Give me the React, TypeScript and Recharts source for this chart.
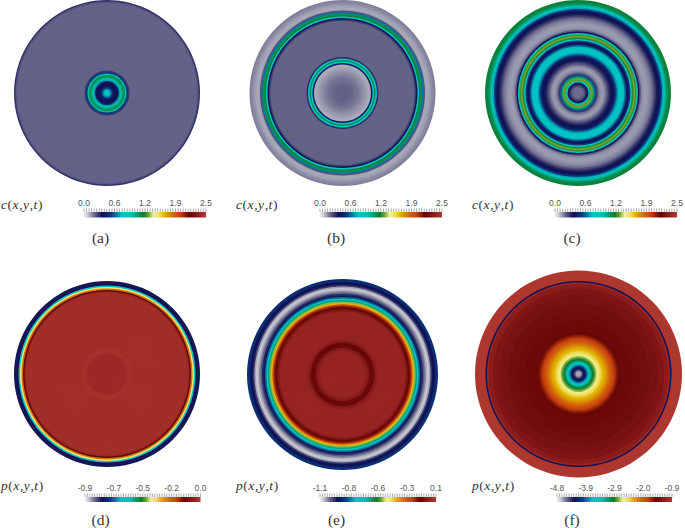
import React from "react";
import { Area, AreaChart, Cell, Pie, PieChart, XAxis, YAxis } from "recharts";

// colour map, position along the bar -> colour
const mapStops = [0, 0.03, 0.09, 0.15, 0.22, 0.31, 0.39, 0.44, 0.49, 0.53, 0.57, 0.62, 0.66, 0.74, 0.79, 0.86, 0.93, 1];
const mapColors = [
  "#f0f0f0", "#c8c8d0", "#5f5f85", "#101052", "#0a3a80", "#00c4c4", "#00c0b0", "#00a070", "#107a30",
  "#70a830", "#f0f0a0", "#eedc50", "#e0b000", "#d0600c", "#c84010", "#620404", "#8a1c1c", "#b03a32",
];

// radial profiles, centre to rim, one value per ring
const cA = [
  0.8, 0.78, 0.68, 0.52, 0.42, 0.37, 0.38, 0.45, 0.72, 0.98, 1.12, 1.15, 1.0, 0.55, 0.3,
  0.22, 0.22, 0.22, 0.22, 0.22, 0.22, 0.22, 0.22, 0.22, 0.22, 0.22, 0.22, 0.22, 0.22, 0.22,
  0.22, 0.22, 0.22, 0.22, 0.22, 0.22, 0.22, 0.22, 0.22, 0.22, 0.22, 0.22, 0.22, 0.22, 0.22,
  0.22, 0.22, 0.22, 0.22, 0.22, 0.22, 0.22, 0.22, 0.22, 0.22, 0.22, 0.22, 0.22, 0.22, 0.22,
  0.24, 0.31,
];
const cB = [
  0.22, 0.22, 0.22, 0.22, 0.22, 0.22, 0.21, 0.21, 0.2, 0.2, 0.19, 0.18, 0.17, 0.16, 0.15, 0.14, 0.13, 0.12, 0.12,
  0.42, 0.78, 1.15, 0.78, 0.32,
  0.22, 0.22, 0.22, 0.22, 0.22, 0.22, 0.22, 0.22, 0.22, 0.22, 0.22, 0.22,
  0.22, 0.22, 0.22, 0.22, 0.22, 0.22, 0.22, 0.22, 0.22, 0.22, 0.22, 0.22,
  0.28, 0.4, 0.8, 1.2, 1.15, 0.65, 0.25, 0.13, 0.12, 0.13, 0.14, 0.16, 0.17, 0.18,
];
const cC = [
  0.21, 0.21, 0.21, 0.22, 0.26, 0.33, 0.42, 0.78, 1.3, 1.32, 1.1, 0.6, 0.3, 0.21, 0.17, 0.15, 0.14, 0.16, 0.2, 0.25,
  0.3, 0.35, 0.38, 0.4, 0.45, 0.6, 0.72, 0.78, 0.8, 0.8, 0.76, 0.62, 0.45, 0.38, 0.55, 0.85, 1.25, 1.32, 1.28, 0.85,
  0.4, 0.24, 0.17, 0.15, 0.14, 0.14, 0.15, 0.16, 0.18, 0.2, 0.25, 0.3, 0.35, 0.38, 0.42, 0.55, 0.72, 0.85, 1.05, 1.15,
  1.2, 1.2,
];
const pD = [
  -0.035, -0.035, -0.035, -0.035, -0.035, -0.035, -0.035, -0.035, -0.035, -0.035, -0.035, -0.035, -0.035, -0.03, -0.02, -0.015, -0.02,
  -0.025, -0.025, -0.025, -0.025, -0.025, -0.025, -0.025, -0.025, -0.025, -0.025, -0.025, -0.025,
  -0.025, -0.025, -0.025, -0.025, -0.025, -0.025, -0.025, -0.025, -0.025, -0.025, -0.025, -0.025,
  -0.025, -0.025, -0.025, -0.025, -0.025, -0.025, -0.025, -0.025, -0.025, -0.025, -0.025, -0.025, -0.025,
  -0.04, -0.13, -0.25, -0.36, -0.62, -0.76, -0.77, -0.77,
];
const pE = [
  -0.01, -0.01, -0.01, -0.01, -0.01, -0.01, -0.01, -0.01, -0.01, -0.01, -0.01, -0.01, -0.01, -0.01, -0.01,
  -0.02, -0.03, -0.05, -0.1, -0.125, -0.11, -0.06, -0.03, -0.02,
  -0.01, -0.01, -0.01, -0.01, -0.01, -0.01, -0.01, -0.01, -0.01, -0.01, -0.01, -0.01, -0.01, -0.01, -0.01, -0.01, -0.01, -0.01,
  -0.03, -0.07, -0.11, -0.15, -0.22, -0.36, -0.5, -0.63, -0.76, -0.84, -0.94, -0.985, -1.03, -1.06, -1.09, -1.105, -1.08,
  -1.0, -0.95, -0.96, -0.9, -0.9,
];
const pF = [
  -4.68, -4.6, -4.41, -4.18, -4.14, -3.86, -3.63, -3.4, -3.12, -2.89, -2.81, -2.69, -2.54, -2.46, -2.38, -2.3, -2.23, -2.19,
  -2.11, -2.03, -1.95, -1.88, -1.8, -1.72, -1.64, -1.56, -1.49, -1.41,
  -1.38, -1.38, -1.38, -1.38, -1.38, -1.38, -1.38, -1.38, -1.36, -1.36, -1.36, -1.36, -1.36,
  -1.33, -1.33, -1.33, -1.33, -1.33, -1.33, -1.29, -1.29, -1.29, -1.29, -1.29, -1.29,
  -1.25, -1.25, -1.25, -1.25, -1.17, -1.17, -1.17, -1.06, -4.2, -0.94,
  -0.92, -0.92, -0.92, -0.92, -0.92, -0.92,
];

const cTicks = ["0.0", "0.6", "1.2", "1.9", "2.5"];
const pTicksD = ["-0.9", "-0.7", "-0.5", "-0.2", "0.0"];
const pTicksE = ["-1.1", "-0.8", "-0.6", "-0.3", "0.1"];
const pTicksF = ["-4.8", "-3.9", "-2.9", "-2.0", "-0.9"];

const minorTicks = Array.from({ length: 49 }, (_, i) => i / 48);

const panels = [
  { id: "a", kind: "c", values: cA, min: 0, max: 2.5, labels: cTicks, cx: 107, cy: 93, r: 93, barL: 84, barR: 206, barTop: 212, symX: 1, symY: 196, capX: 100.5, capY: 229 },
  { id: "b", kind: "c", values: cB, min: 0, max: 2.5, labels: cTicks, cx: 342.5, cy: 93, r: 93, barL: 320, barR: 442, barTop: 212, symX: 236, symY: 196, capX: 336, capY: 229 },
  { id: "c", kind: "c", values: cC, min: 0, max: 2.5, labels: cTicks, cx: 578, cy: 93, r: 93, barL: 555, barR: 677, barTop: 212, symX: 472, symY: 196, capX: 572, capY: 229 },
  { id: "d", kind: "p", values: pD, min: -0.9, max: 0, labels: pTicksD, cx: 107, cy: 374, r: 93, barL: 85, barR: 200.5, barTop: 496.5, symX: 1, symY: 477, capX: 100.5, capY: 511 },
  { id: "e", kind: "p", values: pE, min: -1.14, max: 0.05, labels: pTicksE, cx: 342.5, cy: 374.5, r: 95.5, barL: 320, barR: 436, barTop: 496.5, symX: 236, symY: 477, capX: 336.5, capY: 511 },
  { id: "f", kind: "p", values: pF, min: -4.8, max: -0.9, labels: pTicksF, cx: 578.5, cy: 374, r: 103.5, barL: 556.5, barR: 671.5, barTop: 496.5, symX: 472, symY: 477, capX: 572, capY: 511 },
];

function hexToRgb(hex: string) {
  return [1, 3, 5].map((k) => parseInt(hex.slice(k, k + 2), 16));
}

function mapColor(t: number) {
  const v = Math.min(1, Math.max(0, t));
  let i = 0;
  while (i < mapStops.length - 2 && v > mapStops[i + 1]) i++;
  const f = (v - mapStops[i]) / (mapStops[i + 1] - mapStops[i]);
  const a = hexToRgb(mapColors[i]);
  const b = hexToRgb(mapColors[i + 1]);
  return `rgb(${a.map((x, k) => Math.round(x + (b[k] - x) * f)).join(",")})`;
}

const fullSlice = [{ name: "ring", value: 1 }];

// each ring is a filled disk, rim first and centre last, so no seams show
function Disk({ p }: { p: (typeof panels)[number] }) {
  const n = p.values.length;
  const size = Math.ceil(p.r * 2) + 8;
  const left = Math.floor(p.cx - size / 2);
  const top = Math.floor(p.cy - size / 2);
  const rims = p.values.map((value, i) => ({ i, value })).reverse();
  return (
    <div style={{ position: "absolute", left, top, filter: "blur(0.6px)" }}>
      <PieChart width={size} height={size} margin={{ top: 0, right: 0, bottom: 0, left: 0 }}>
        {rims.map(({ i, value }) => (
          <Pie
            key={i}
            data={fullSlice}
            dataKey="value"
            cx={p.cx - left}
            cy={p.cy - top}
            innerRadius={0}
            outerRadius={((i + 1) * p.r) / n}
            startAngle={90}
            endAngle={-270}
            stroke="none"
            isAnimationActive={false}
          >
            <Cell fill={mapColor((value - p.min) / (p.max - p.min))} />
          </Pie>
        ))}
      </PieChart>
    </div>
  );
}

function ColorBar({ p }: { p: (typeof panels)[number] }) {
  const pad = 14;
  const width = p.barR - p.barL + pad * 2;
  const gradId = `map-${p.id}`;
  const barData = [
    { x: 0, y: 1 },
    { x: 1, y: 1 },
  ];
  const renderTick = (t: any) => {
    const idx = Math.round(t.payload.value * 48);
    if (idx % 12 !== 0) return <g />;
    return (
      <text x={t.x} y={t.y - 1.5} textAnchor="middle" fontSize={8.5} fill="#555" fontFamily="'Liberation Sans', sans-serif">
        {p.labels[idx / 12]}
      </text>
    );
  };
  return (
    <div style={{ position: "absolute", left: p.barL - pad, top: p.barTop - 16 }}>
      <AreaChart width={width} height={21.5} data={barData} margin={{ top: 0, right: pad, bottom: 0, left: pad }}>
        <defs>
          <linearGradient id={gradId} x1="0" y1="0" x2="1" y2="0">
            {mapStops.map((s, i) => (
              <stop key={s} offset={s} stopColor={mapColors[i]} />
            ))}
          </linearGradient>
        </defs>
        <XAxis
          dataKey="x"
          type="number"
          orientation="top"
          domain={[0, 1]}
          ticks={minorTicks}
          interval={0}
          height={16}
          tickSize={3.5}
          tickMargin={1}
          tick={renderTick}
          tickLine={{ stroke: "#888", strokeWidth: 0.7 }}
          axisLine={false}
        />
        <YAxis hide domain={[0, 1]} />
        <Area dataKey="y" type="linear" stroke="none" fill={`url(#${gradId})`} fillOpacity={1} isAnimationActive={false} dot={false} activeDot={false} />
      </AreaChart>
    </div>
  );
}

function Symbol({ p }: { p: (typeof panels)[number] }) {
  return (
    <div
      style={{
        position: "absolute",
        left: p.symX,
        top: p.symY,
        fontFamily: "'Liberation Serif', serif",
        fontSize: 13.5,
        letterSpacing: 0.55,
        lineHeight: "18px",
        color: "#333",
        whiteSpace: "nowrap",
      }}
    >
      <i>{p.kind}</i>(<i>x</i>,<i>y</i>,<i>t</i>)
    </div>
  );
}

function Caption({ p }: { p: (typeof panels)[number] }) {
  return (
    <div
      style={{
        position: "absolute",
        left: p.capX - 20,
        width: 40,
        top: p.capY,
        textAlign: "center",
        fontFamily: "'Liberation Serif', serif",
        fontSize: 15.5,
        lineHeight: "18px",
        color: "#333",
      }}
    >
      ({p.id})
    </div>
  );
}

export default function App() {
  return (
    <div style={{ position: "absolute", left: 0, top: 0, width: 685, height: 528, overflow: "hidden", background: "#fff" }}>
      {panels.map((p) => (
        <React.Fragment key={p.id}>
          <Disk p={p} />
          <ColorBar p={p} />
          <Symbol p={p} />
          <Caption p={p} />
        </React.Fragment>
      ))}
    </div>
  );
}
